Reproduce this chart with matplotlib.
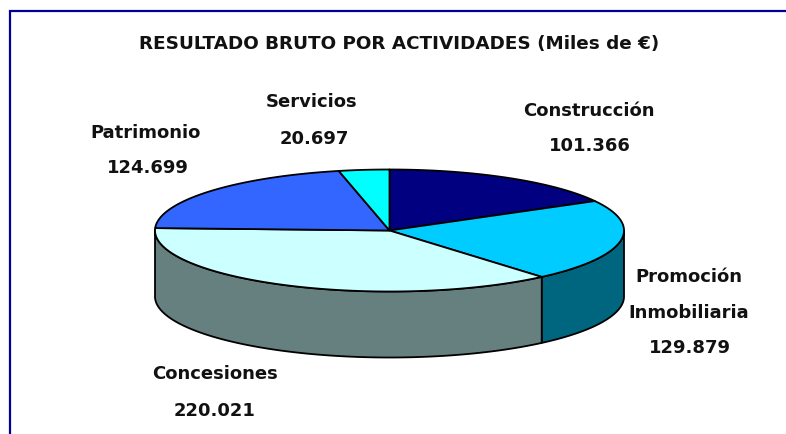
#!/usr/bin/python3
""" pie of gross result by activity, drawn as a tilted 3D disc """
import matplotlib
matplotlib.use('Agg')
import matplotlib.pyplot as plt
import numpy as np
from matplotlib.patches import Polygon

# ------ DATA -------
ACTIVITIES = ['Construcción', 'Promoción\nInmobiliaria', 'Concesiones', 'Patrimonio', 'Servicios']
VALUES = [101.366, 129.879, 220.021, 124.699, 20.697]
VALUE_LABELS = ['101.366', '129.879', '220.021', '124.699', '20.697']
TITLE = 'RESULTADO BRUTO POR ACTIVIDADES (Miles de €)'

# ------ STYLE -------
TOP_COLORS = ['#000080', '#00CCFF', '#CCFFFF', '#3366FF', '#00FFFF']
SIDE_COLORS = ['#000040', '#006680', '#668080', '#1A3380', '#008080']
# label centres in pixels, one entry per line of text
LABEL_POS = [[(589, 111), (590, 146)],
             [(689, 277), (689, 313), (690, 348)],
             [(215, 374), (215, 411)],
             [(146, 133), (148, 168)],
             [(312, 102), (314, 139)]]
CX, CY = 389.5, 230.5
RX, RY = 234.5, 61
DEPTH = 66
LW = 1.3
FONT = 'DejaVu Sans'


def rim(a0, a1):
    """ points on the top ellipse, angles in degrees clockwise from north """
    t = np.radians(np.linspace(a0, a1, 200))
    return np.column_stack([CX + RX * np.sin(t), CY - RY * np.cos(t)])


fig = plt.figure(figsize=(7.86, 4.34), dpi=100)
ax = fig.add_axes([0, 0, 1, 1])
ax.set_xlim(0, 786)
ax.set_ylim(434, 0)
ax.axis('off')

# outer frame, only left and top fall inside the picture
ax.plot([9.5, 9.5, 790], [440, 10.5, 10.5], color='#000099', lw=1.6, solid_joinstyle='miter')

edges = np.concatenate([[0], np.cumsum(VALUES)]) / sum(VALUES) * 360

# walls first, only the front half of the disc shows them
for i in range(len(VALUES)):
    a0 = max(edges[i], 90)
    a1 = min(edges[i + 1], 270)
    if a1 <= a0:
        continue
    top = rim(a0, a1)
    bottom = top[::-1] + [0, DEPTH]
    ax.add_patch(Polygon(np.vstack([top, bottom]), closed=True, facecolor=SIDE_COLORS[i],
                         edgecolor='black', lw=LW, joinstyle='round'))

for i in range(len(VALUES)):
    pts = np.vstack([[CX, CY], rim(edges[i], edges[i + 1])])
    ax.add_patch(Polygon(pts, closed=True, facecolor=TOP_COLORS[i],
                         edgecolor='black', lw=LW, joinstyle='round'))

ax.text(399, 44, TITLE, ha='center', va='center', fontsize=13.2, fontweight='bold',
        family=FONT, color='#111111')

for name, val, pos in zip(ACTIVITIES, VALUE_LABELS, LABEL_POS):
    lines = name.split('\n') + [val]
    for line, (x, y) in zip(lines, pos):
        ax.text(x, y, line, ha='center', va='center', fontsize=13, fontweight='bold',
                family=FONT, color='#111111')

fig.savefig('out.png', dpi=100)
